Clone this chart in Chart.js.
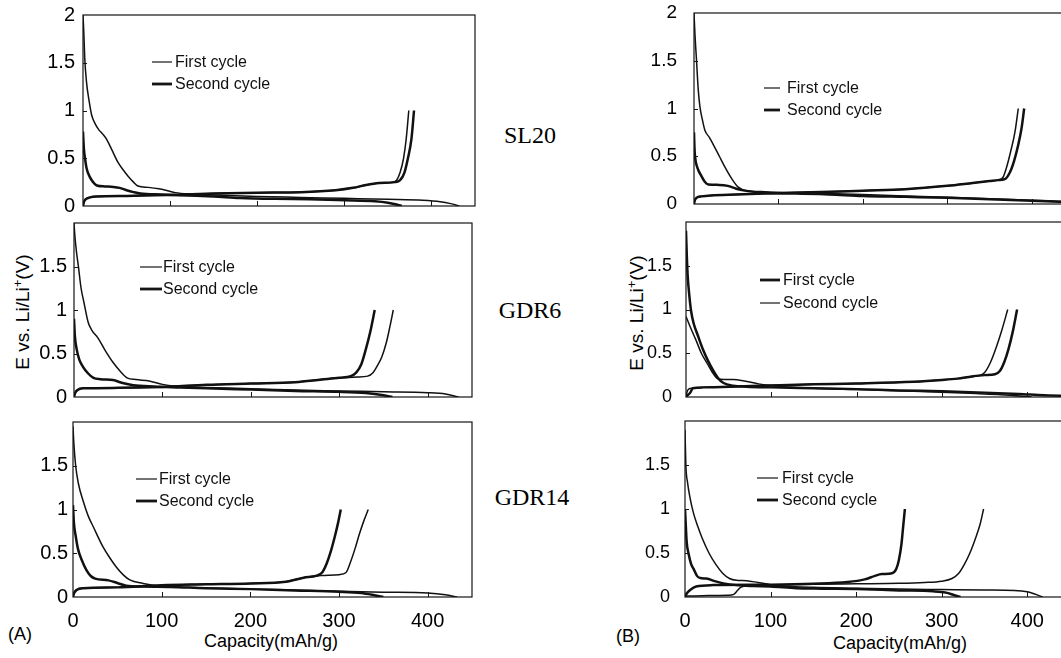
<!DOCTYPE html>
<html>
<head>
<meta charset="utf-8">
<script src="https://cdn.jsdelivr.net/npm/chart.js@4.4.0/dist/chart.umd.min.js"></script>
<style>
html,body{margin:0;padding:0;background:#fff;}
body{width:1061px;height:658px;overflow:hidden;position:relative;font-family:"Liberation Sans",Arial,sans-serif;color:#000;}
.pane{position:absolute;}
.lbl{position:absolute;white-space:nowrap;transform:translate(-50%,-50%);}
.serif{font-family:"Liberation Serif","Times New Roman",serif;font-size:24px;}
.cap{font-size:18px;}
.ytitle{position:absolute;font-size:19px;white-space:nowrap;transform:translate(-50%,-50%) rotate(-90deg);}
.ytitle sup{font-size:13px;}
</style>
</head>
<body>

<div class="lbl serif" style="left:530px;top:135px">SL20</div>
<div class="lbl serif" style="left:530px;top:310px">GDR6</div>
<div class="lbl serif" style="left:532px;top:497px">GDR14</div>

<div class="ytitle" style="left:22px;top:312px">E vs. Li/Li<sup>+</sup>(V)</div>
<div class="ytitle" style="left:636px;top:313px">E vs. Li/Li<sup>+</sup>(V)</div>

<div class="lbl cap" style="left:271px;top:641px">Capacity(mAh/g)</div>
<div class="lbl cap" style="left:900px;top:643px">Capacity(mAh/g)</div>
<div class="lbl cap" style="left:20px;top:634px">(A)</div>
<div class="lbl cap" style="left:628px;top:636px">(B)</div>

<script>
// capacity (mAh/g), voltage (V) pairs
// d = discharge, c = charge, 1 = first cycle, 2 = second cycle

// (A) SL20
const sl20a_d1 = [[0,2.0],[1,1.8],[2,1.55],[4,1.3],[7,1.1],[10,0.95],[14,0.86],[18,0.8],[23,0.75],[27,0.7],[33,0.59],[40,0.46],[46,0.38],[52,0.31],[58,0.25],[63,0.21],[75,0.195],[87,0.18],[97,0.16],[106,0.14],[125,0.125],[150,0.115],[200,0.1],[250,0.09],[300,0.08],[350,0.07],[390,0.06],[410,0.045],[422,0.025],[432,0.0]];
const sl20a_c1 = [[0,0.0],[1,0.04],[3,0.07],[8,0.09],[15,0.1],[50,0.105],[100,0.115],[150,0.13],[200,0.14],[250,0.145],[290,0.165],[310,0.19],[325,0.22],[340,0.24],[355,0.25],[360,0.27],[364,0.35],[368,0.5],[371,0.7],[374,1.0]];
const sl20a_d2 = [[0,0.78],[1,0.6],[2.3,0.5],[4,0.4],[6,0.34],[10,0.27],[16,0.215],[25,0.205],[35,0.2],[42,0.19],[50,0.165],[58,0.145],[66,0.13],[90,0.12],[120,0.11],[150,0.1],[180,0.085],[220,0.075],[260,0.07],[300,0.06],[335,0.05],[350,0.035],[360,0.015],[366,0.0]];
const sl20a_c2 = [[0,0.0],[1,0.04],[3,0.07],[8,0.09],[15,0.1],[50,0.105],[100,0.115],[150,0.13],[200,0.14],[250,0.145],[290,0.165],[310,0.19],[325,0.22],[340,0.24],[358,0.25],[364,0.27],[369,0.35],[373,0.5],[377,0.7],[380,1.0]];

// (A) GDR6
const gdr6a_d1 = [[0,2.0],[1,1.85],[3,1.65],[5,1.5],[8,1.25],[11,1.1],[16,0.86],[20,0.77],[27,0.68],[35,0.54],[44,0.4],[52,0.3],[60,0.22],[70,0.2],[85,0.185],[100,0.145],[115,0.125],[150,0.11],[200,0.095],[250,0.08],[300,0.07],[350,0.06],[400,0.05],[420,0.035],[435,0.0]];
const gdr6a_c1 = [[0,0.0],[1,0.04],[4,0.08],[10,0.1],[50,0.105],[100,0.115],[150,0.14],[200,0.155],[250,0.17],[280,0.2],[300,0.22],[320,0.23],[332,0.24],[338,0.28],[343,0.36],[348,0.46],[353,0.62],[357,0.8],[361,1.0]];
const gdr6a_d2 = [[0,0.9],[1,0.7],[3,0.55],[6,0.43],[10,0.35],[16,0.27],[22,0.22],[30,0.205],[44,0.195],[55,0.16],[67,0.135],[90,0.12],[120,0.11],[150,0.1],[200,0.085],[250,0.07],[300,0.06],[330,0.045],[350,0.02],[360,0.0]];
const gdr6a_c2 = [[0,0.0],[1,0.04],[4,0.08],[10,0.1],[50,0.105],[100,0.115],[150,0.14],[200,0.155],[250,0.17],[280,0.2],[300,0.22],[313,0.24],[319,0.28],[325,0.38],[330,0.55],[335,0.75],[340,1.0]];

// (A) GDR14
const gdr14a_d1 = [[0,1.95],[1,1.75],[3,1.5],[6,1.3],[12,1.08],[17,0.93],[23,0.8],[34,0.57],[42,0.44],[49,0.34],[57,0.25],[64,0.195],[79,0.155],[98,0.125],[130,0.11],[200,0.09],[250,0.08],[300,0.065],[350,0.055],[400,0.045],[420,0.025],[433,0.0]];
const gdr14a_c1 = [[0,0.0],[1,0.04],[4,0.08],[12,0.1],[50,0.11],[100,0.135],[150,0.145],[200,0.155],[240,0.175],[260,0.22],[280,0.245],[300,0.255],[308,0.28],[313,0.4],[318,0.55],[323,0.72],[328,0.87],[333,1.0]];
const gdr14a_d2 = [[0,1.05],[1,0.85],[3,0.7],[5.6,0.55],[10,0.42],[15,0.31],[20,0.24],[25,0.21],[40,0.19],[50,0.16],[60,0.13],[80,0.12],[110,0.115],[150,0.1],[200,0.09],[250,0.075],[300,0.06],[325,0.045],[340,0.02],[350,0.0]];
const gdr14a_c2 = [[0,0.0],[1,0.04],[4,0.08],[12,0.1],[50,0.11],[100,0.135],[150,0.145],[200,0.155],[240,0.175],[260,0.22],[275,0.245],[281,0.28],[286,0.38],[291,0.53],[296,0.72],[299,0.85],[302,1.0]];

// (B) SL20
const sl20b_d1 = [[0,2.0],[1,1.8],[3,1.5],[5,1.2],[7,1.02],[10,0.88],[13,0.77],[18,0.7],[23,0.62],[30,0.5],[37,0.38],[45,0.26],[52,0.18],[62,0.14],[80,0.13],[100,0.12],[150,0.11],[200,0.1],[250,0.085],[300,0.07],[350,0.055],[400,0.04],[430,0.03],[460,0.02]];
const sl20b_c1 = [[0,0.0],[1,0.04],[4,0.07],[9,0.08],[20,0.09],[50,0.1],[100,0.115],[150,0.125],[200,0.14],[250,0.155],[300,0.19],[330,0.22],[350,0.24],[360,0.25],[366,0.28],[370,0.38],[375,0.55],[380,0.75],[384,1.0]];
const sl20b_d2 = [[0,0.75],[0.5,0.6],[1.2,0.5],[4,0.38],[9,0.29],[13,0.23],[17,0.205],[30,0.2],[40,0.19],[50,0.16],[60,0.14],[86,0.115],[120,0.11],[160,0.1],[200,0.085],[250,0.075],[300,0.065],[350,0.05],[400,0.035],[460,0.015]];
const sl20b_c2 = [[0,0.0],[1,0.04],[4,0.07],[9,0.08],[20,0.09],[50,0.1],[100,0.115],[150,0.125],[200,0.14],[250,0.155],[300,0.19],[330,0.22],[350,0.24],[360,0.25],[368,0.26],[374,0.33],[379,0.45],[384,0.62],[388,0.8],[391,1.0]];

// (B) GDR6
const gdr6b_d1 = [[0,1.9],[1,1.6],[2,1.38],[4,1.15],[6,0.98],[9,0.84],[14,0.7],[20,0.54],[26,0.41],[32,0.3],[38,0.21],[44,0.16],[55,0.13],[71,0.118],[100,0.11],[150,0.1],[200,0.09],[250,0.075],[300,0.065],[350,0.05],[390,0.035],[420,0.02],[460,0.01]];
const gdr6b_c1 = [[0,0.0],[2,0.02],[5,0.05],[8,0.1],[20,0.11],[60,0.12],[110,0.135],[150,0.145],[200,0.155],[267,0.175],[300,0.195],[318,0.21],[335,0.235],[350,0.25],[362,0.26],[368,0.3],[373,0.4],[378,0.55],[383,0.75],[388,1.0]];
const gdr6b_d2 = [[0,0.92],[5,0.8],[11.7,0.65],[18,0.5],[25,0.38],[31,0.28],[37,0.21],[45,0.2],[55,0.2],[70,0.18],[85,0.15],[100,0.13],[150,0.1],[200,0.085],[250,0.07],[300,0.055],[340,0.04],[380,0.02],[405,0.0]];
const gdr6b_c2 = [[0,0.0],[1,0.05],[3,0.09],[8,0.1],[20,0.11],[60,0.12],[110,0.135],[150,0.145],[200,0.155],[267,0.175],[300,0.195],[318,0.21],[335,0.235],[345,0.25],[350,0.28],[357,0.4],[364,0.58],[370,0.76],[377,1.0]];

// (B) GDR14
const gdr14b_d1 = [[0,1.9],[1,1.5],[3,1.3],[6,1.12],[10,0.95],[15,0.8],[20,0.67],[28,0.5],[36,0.37],[44,0.27],[52,0.21],[60,0.19],[72,0.185],[85,0.165],[100,0.14],[115,0.125],[150,0.11],[200,0.1],[250,0.09],[300,0.085],[350,0.08],[385,0.075],[400,0.06],[410,0.03],[418,0.0]];
const gdr14b_c1 = [[0,0.01],[20,0.015],[50,0.02],[57,0.03],[61,0.07],[65,0.11],[72,0.125],[100,0.135],[150,0.145],[200,0.15],[250,0.155],[280,0.165],[300,0.18],[312,0.21],[320,0.27],[327,0.38],[333,0.5],[340,0.68],[345,0.83],[349,1.0]];
const gdr14b_d2 = [[0,1.0],[1,0.8],[2,0.62],[4,0.5],[7,0.38],[10,0.32],[14,0.24],[18,0.215],[25,0.21],[35,0.18],[45,0.155],[60,0.135],[80,0.125],[100,0.12],[130,0.1],[160,0.095],[200,0.09],[250,0.075],[290,0.065],[305,0.05],[315,0.02],[322,0.0]];
const gdr14b_c2 = [[0,0.0],[2,0.04],[6,0.08],[13,0.12],[33,0.135],[100,0.14],[150,0.15],[190,0.17],[210,0.2],[222,0.24],[230,0.26],[242,0.27],[247,0.32],[250,0.42],[253,0.6],[255,0.8],[257,1.0]];

const xTicks = [100, 200, 300, 400];
const yTicks = [0.5, 1, 1.5];
const legendLabels = ["First cycle", "Second cycle"];

const THIN = 1.5, THICK = 2.5;
// room kept round each plot so Chart.js label padding never moves the plot area
const Y_W = 70, PAD_T = 34, PAD_R = 8, X_H = 34, X_H_LAB = 46;
const FONT_FAMILY = "'Liberation Sans', Arial, sans-serif";

// frame, inward tick marks and the in-plot legend
const framePlugin = {
  id: "frame",
  afterDraw(chart, args, o) {
    const {ctx, chartArea: a, scales: {x, y}} = chart;
    ctx.save();
    ctx.strokeStyle = "#151515";
    ctx.lineWidth = 1.2;
    ctx.strokeRect(a.left, a.top, a.right - a.left, a.bottom - a.top);
    ctx.lineWidth = 1;
    ctx.beginPath();
    xTicks.forEach(v => {
      const px = Math.round(x.getPixelForValue(v)) + 0.5;
      ctx.moveTo(px, a.bottom); ctx.lineTo(px, a.bottom - 5);
    });
    yTicks.forEach(v => {
      const py = Math.round(y.getPixelForValue(v)) + 0.5;
      ctx.moveTo(a.left, py); ctx.lineTo(a.left + 4, py);
    });
    ctx.stroke();

    // legend
    ctx.font = "16px " + FONT_FAMILY;
    ctx.fillStyle = "#111";
    ctx.textBaseline = "middle";
    legendLabels.forEach((t, i) => {
      const yy = a.top + o.ly[i];
      ctx.lineWidth = o.lw[i] === THIN ? 1.2 : 2.8;
      ctx.beginPath();
      ctx.moveTo(a.left + o.lx[0], yy);
      ctx.lineTo(a.left + o.lx[1], yy);
      ctx.stroke();
      ctx.fillText(t, a.left + o.lx[2], yy + 1);
    });
    ctx.restore();
  }
};

function makePanel(p) {
  const w = Math.round(p.right - p.left) + Y_W + PAD_R;
  const h = (p.bottom - p.top) + PAD_T + (p.xLabels ? X_H_LAB : X_H);
  const div = document.createElement("div");
  div.className = "pane";
  div.style.left = (p.left - Y_W) + "px";
  div.style.top = (p.top - PAD_T) + "px";
  const c = document.createElement("canvas");
  c.width = w; c.height = h;
  c.style.width = w + "px"; c.style.height = h + "px";
  div.appendChild(c);
  document.body.appendChild(div);

  const ds = (data, lw) => ({
    data: data.map(d => ({x: d[0], y: d[1]})),
    borderColor: "#111",
    borderWidth: lw,
    pointRadius: 0,
    fill: false,
    cubicInterpolationMode: "monotone"
  });

  new Chart(c, {
    type: "line",
    data: {
      datasets: [
        ds(p.curves[0], p.lw[0]), ds(p.curves[1], p.lw[0]),
        ds(p.curves[2], p.lw[1]), ds(p.curves[3], p.lw[1])
      ]
    },
    options: {
      responsive: false,
      animation: false,
      devicePixelRatio: 1,
      layout: {padding: {top: PAD_T, right: PAD_R, left: 0, bottom: 0}},
      plugins: {
        legend: {display: false},
        tooltip: {enabled: false},
        frame: {lx: p.lx, ly: p.ly, lw: p.lw}
      },
      scales: {
        x: {
          type: "linear", min: 0, max: 450,
          grid: {display: false, drawTicks: false},
          border: {display: false},
          ticks: {
            display: p.xLabels, stepSize: 100, includeBounds: false,
            color: "#000", padding: 12, font: {family: FONT_FAMILY, size: 20}
          },
          afterFit: s => { s.height = p.xLabels ? X_H_LAB : X_H; }
        },
        y: {
          min: 0, max: 2,
          grid: {display: false, drawTicks: false},
          border: {display: false},
          ticks: {
            stepSize: 0.5, color: "#000", padding: p.yPad,
            font: {family: FONT_FAMILY, size: p.yFont},
            callback: v => (v === 2 && !p.show2) ? "" : String(v)
          },
          afterFit: s => { s.width = Y_W; }
        }
      }
    },
    plugins: [framePlugin]
  });
}

const panels = [
  {left: 83, top: 15, right: 474.5, bottom: 206, show2: true, xLabels: false, yPad: 8, yFont: 20,
   curves: [sl20a_d1, sl20a_c1, sl20a_d2, sl20a_c2], lw: [THIN, THICK],
   lx: [69, 89, 92], ly: [47, 69]},
  {left: 74, top: 223, right: 472, bottom: 397, show2: false, xLabels: false, yPad: 7, yFont: 20,
   curves: [gdr6a_d1, gdr6a_c1, gdr6a_d2, gdr6a_c2], lw: [THIN, THICK],
   lx: [66, 88, 89], ly: [44, 66]},
  {left: 73, top: 422, right: 472, bottom: 597, show2: false, xLabels: true, yPad: 5, yFont: 20,
   curves: [gdr14a_d1, gdr14a_c1, gdr14a_d2, gdr14a_c2], lw: [THIN, THICK],
   lx: [63, 84, 86], ly: [57, 79]},
  {left: 694, top: 13, right: 1074, bottom: 204, show2: true, xLabels: false, yPad: 17, yFont: 19,
   curves: [sl20b_d1, sl20b_c1, sl20b_d2, sl20b_c2], lw: [THIN, THICK],
   lx: [70, 86, 93], ly: [75, 97]},
  {left: 686, top: 222, right: 1070, bottom: 397, show2: false, xLabels: false, yPad: 14, yFont: 18,
   curves: [gdr6b_d1, gdr6b_c1, gdr6b_d2, gdr6b_c2], lw: [THICK, THIN],
   lx: [74, 94, 97], ly: [58, 81]},
  {left: 685, top: 421, right: 1070, bottom: 597, show2: false, xLabels: true, yPad: 15, yFont: 18,
   curves: [gdr14b_d1, gdr14b_c1, gdr14b_d2, gdr14b_c2], lw: [THIN, THICK],
   lx: [72, 93, 97], ly: [57, 79]}
];

panels.forEach(makePanel);
</script>
</body>
</html>
